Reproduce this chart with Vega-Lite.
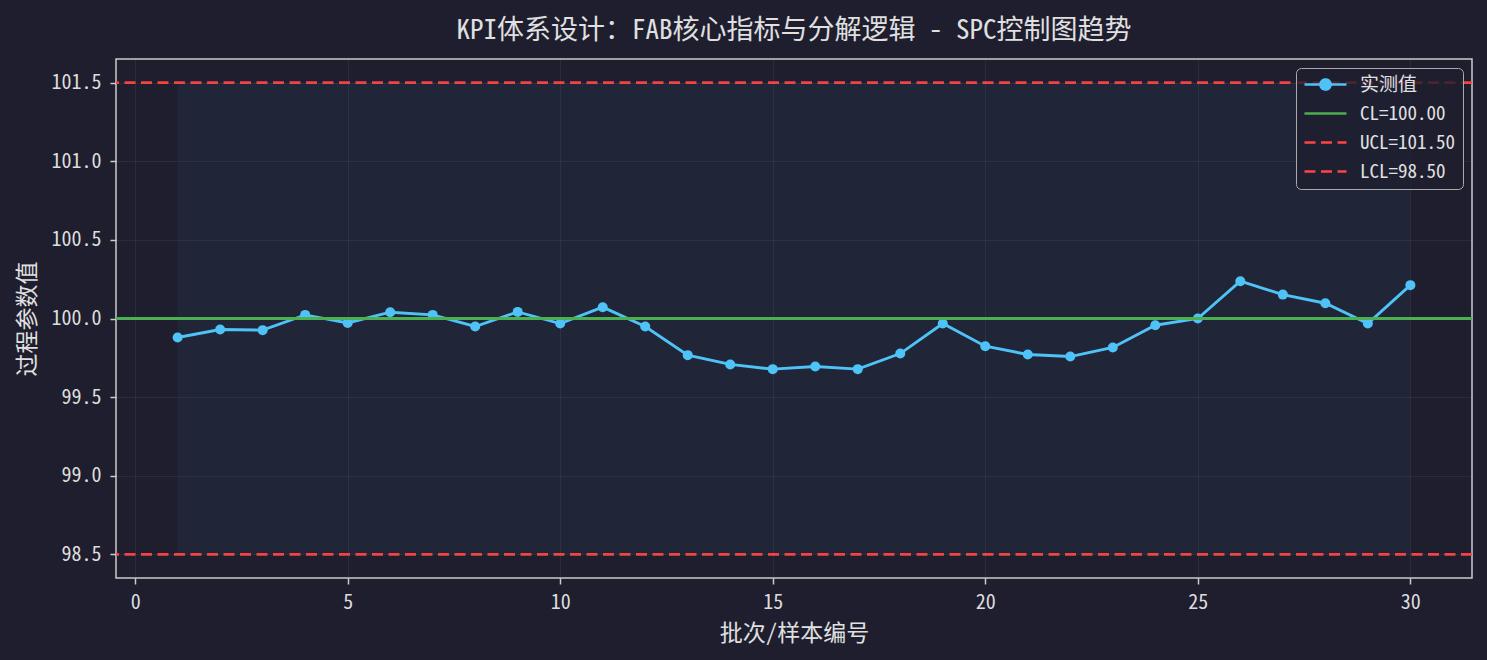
{
  "$schema": "https://vega.github.io/schema/vega-lite/v6.json",
  "autosize": {"type": "none"},
  "width": 1356,
  "height": 519,
  "padding": {"left": 116, "top": 59, "right": 15, "bottom": 82},
  "background": "#1e1e2e",
  "title": {
    "text": "KPI体系设计：FAB核心指标与分解逻辑 - SPC控制图趋势",
    "anchor": "middle",
    "font": "Noto Sans Mono CJK SC, DejaVu Sans Mono, Noto Sans CJK SC, monospace",
    "fontSize": 27,
    "fontWeight": "normal",
    "color": "#e0e0e0",
    "offset": 14
  },
  "config": {
    "font": "Noto Sans Mono CJK SC, DejaVu Sans Mono, Noto Sans CJK SC, monospace",
    "view": {"stroke": "#cccccc", "strokeWidth": 1.5, "fill": "#1e1e2e"},
    "axis": {
      "domain": false,
      "tickColor": "#cccccc",
      "tickSize": 6,
      "tickWidth": 1.5,
      "labelColor": "#dddddd",
      "labelFontSize": 20,
      "labelPadding": 8,
      "titleColor": "#e0e0e0",
      "titleFontSize": 23,
      "titleFontWeight": "normal",
      "gridColor": "#ffffff",
      "gridOpacity": 0.06,
      "gridWidth": 1
    }
  },
  "datasets": {
    "measurements": [
      {"batch": 1, "value": 99.879},
      {"batch": 2, "value": 99.930},
      {"batch": 3, "value": 99.926},
      {"batch": 4, "value": 100.023},
      {"batch": 5, "value": 99.972},
      {"batch": 6, "value": 100.040},
      {"batch": 7, "value": 100.023},
      {"batch": 8, "value": 99.949},
      {"batch": 9, "value": 100.042},
      {"batch": 10, "value": 99.968},
      {"batch": 11, "value": 100.072},
      {"batch": 12, "value": 99.949},
      {"batch": 13, "value": 99.767},
      {"batch": 14, "value": 99.708},
      {"batch": 15, "value": 99.678},
      {"batch": 16, "value": 99.695},
      {"batch": 17, "value": 99.678},
      {"batch": 18, "value": 99.777},
      {"batch": 19, "value": 99.968},
      {"batch": 20, "value": 99.824},
      {"batch": 21, "value": 99.771},
      {"batch": 22, "value": 99.758},
      {"batch": 23, "value": 99.816},
      {"batch": 24, "value": 99.957},
      {"batch": 25, "value": 100.000},
      {"batch": 26, "value": 100.237},
      {"batch": 27, "value": 100.152},
      {"batch": 28, "value": 100.097},
      {"batch": 29, "value": 99.968},
      {"batch": 30, "value": 100.212}
    ],
    "limits": [
      {"name": "CL=100.00", "value": 100.0, "kind": "center"},
      {"name": "UCL=101.50", "value": 101.5, "kind": "limit"},
      {"name": "LCL=98.50", "value": 98.5, "kind": "limit"}
    ],
    "band": [
      {"start": 1, "end": 30, "lower": 98.5, "upper": 101.5}
    ]
  },
  "encoding": {
    "x": {
      "type": "quantitative",
      "scale": {"domain": [-0.45, 31.45], "nice": false, "zero": false},
      "axis": {"title": "批次/样本编号", "values": [0, 5, 10, 15, 20, 25, 30], "labelAngle": 0, "titlePadding": 10}
    },
    "y": {
      "type": "quantitative",
      "scale": {"domain": [98.35, 101.65], "nice": false, "zero": false},
      "axis": {"title": "过程参数值", "values": [98.5, 99, 99.5, 100, 100.5, 101, 101.5], "format": ".1f", "labelPadding": 9, "titlePadding": 12}
    }
  },
  "layer": [
    {
      "data": {"name": "band"},
      "mark": {"type": "rect", "color": "#4fc3f7", "opacity": 0.05},
      "encoding": {
        "x": {"field": "start", "type": "quantitative"},
        "x2": {"field": "end"},
        "y": {"field": "lower", "type": "quantitative"},
        "y2": {"field": "upper"}
      }
    },
    {
      "data": {"name": "measurements"},
      "mark": {"type": "line", "strokeWidth": 2.9},
      "encoding": {
        "x": {"field": "batch", "type": "quantitative"},
        "y": {"field": "value", "type": "quantitative"},
        "color": {
          "datum": "实测值",
          "type": "nominal",
          "title": null,
          "scale": {
            "domain": ["实测值", "CL=100.00", "UCL=101.50", "LCL=98.50"],
            "range": ["#4fc3f7", "#4caf50", "#ff4444", "#ff4444"]
          },
          "legend": {
            "title": null,
            "orient": "top-right",
            "offset": 9,
            "padding": 7,
            "fillColor": "rgba(30,30,46,0.8)",
            "strokeColor": "#aaaaaa",
            "cornerRadius": 5,
            "labelFontSize": 19,
            "labelColor": "#e0e0e0",
            "symbolSize": 100,
            "symbolStrokeWidth": 2.7,
            "symbolOffset": 13,
            "labelOffset": 25,
            "rowPadding": 9,
            "encode": {
              "symbols": {
                "update": {
                  "shape": {"signal": "datum.label === '实测值' ? 'M-4.2,0H4.2M1,0A1,1,0,1,1,-1,0A1,1,0,1,1,1,0Z' : 'M-4.2,0H4.2'"},
                  "fill": {"signal": "datum.label === '实测值' ? '#4fc3f7' : 'transparent'"},
                  "stroke": {"scale": "color", "field": "value"},
                  "strokeDash": {"signal": "datum.label === '实测值' || datum.label === 'CL=100.00' ? [1, 0] : [11, 5.5]"},
                  "opacity": {"value": 1},
                  "fillOpacity": {"value": 1}
                }
              }
            }
          }
        }
      }
    },
    {
      "data": {"name": "measurements"},
      "mark": {"type": "point", "filled": true, "size": 100, "opacity": 1},
      "encoding": {
        "x": {"field": "batch", "type": "quantitative"},
        "y": {"field": "value", "type": "quantitative"},
        "color": {"datum": "实测值", "type": "nominal", "title": null}
      }
    },
    {
      "data": {"name": "limits"},
      "transform": [{"filter": "datum.kind === 'center'"}],
      "mark": {"type": "rule", "strokeWidth": 2.8},
      "encoding": {
        "y": {"field": "value", "type": "quantitative"},
        "color": {"field": "name", "type": "nominal", "title": null}
      }
    },
    {
      "data": {"name": "limits"},
      "transform": [{"filter": "datum.kind === 'limit'"}],
      "mark": {"type": "rule", "strokeWidth": 2.8, "strokeDash": [11, 5.5], "opacity": 0.95},
      "encoding": {
        "y": {"field": "value", "type": "quantitative"},
        "color": {"field": "name", "type": "nominal", "title": null}
      }
    }
  ]
}
